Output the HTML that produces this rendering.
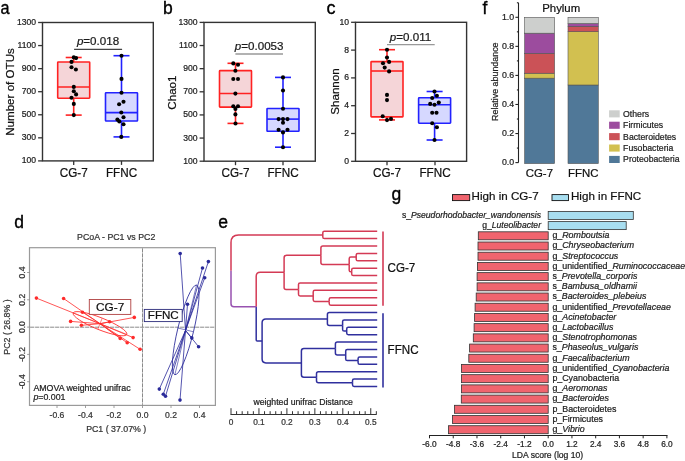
<!DOCTYPE html>
<html><head><meta charset="utf-8"><style>
html,body{margin:0;padding:0;background:#fff;}
svg{display:block;will-change:transform;font-family:"Liberation Sans", sans-serif;}
</style></head><body>
<svg width="685" height="461" viewBox="0 0 685 461">
<rect x="0" y="0" width="685" height="461" fill="#fff"/>
<text transform="translate(0.4,13.55) scale(0.93,1)" font-size="17.5" fill="#000" stroke="#000" stroke-width="0.35">a</text>
<text transform="translate(163.0,13.7) scale(1.0,1)" font-size="17.5" fill="#000" stroke="#000" stroke-width="0.35">b</text>
<text transform="translate(326.5,13.8) scale(1.0,1)" font-size="18" fill="#000" stroke="#000" stroke-width="0.35">c</text>
<text transform="translate(14.3,227.5) scale(1.0,1)" font-size="17.5" fill="#000" stroke="#000" stroke-width="0.35">d</text>
<text transform="translate(218.3,228.0) scale(1.0,1)" font-size="17.6" fill="#000" stroke="#000" stroke-width="0.35">e</text>
<text transform="translate(482.6,13.7) scale(1.0,1)" font-size="17.5" fill="#000" stroke="#000" stroke-width="0.35">f</text>
<text transform="translate(391.5,200.4) scale(1.0,1)" font-size="17.5" fill="#000" stroke="#000" stroke-width="0.35">g</text>
<rect x="42.50" y="22.50" width="110.80" height="138.40" fill="none" stroke="#333" stroke-width="1.4" />
<line x1="38.10" y1="22.50" x2="42.50" y2="22.50" stroke="#333" stroke-width="1.3" />
<text transform="translate(36.10,25.00) scale(1.0,1.1)" font-size="8.6" text-anchor="end" fill="#222" stroke="#222" stroke-width="0.22">1300</text>
<line x1="38.10" y1="45.57" x2="42.50" y2="45.57" stroke="#333" stroke-width="1.3" />
<text transform="translate(36.10,48.07) scale(1.0,1.1)" font-size="8.6" text-anchor="end" fill="#222" stroke="#222" stroke-width="0.22">1100</text>
<line x1="38.10" y1="68.63" x2="42.50" y2="68.63" stroke="#333" stroke-width="1.3" />
<text transform="translate(36.10,71.13) scale(1.0,1.1)" font-size="8.6" text-anchor="end" fill="#222" stroke="#222" stroke-width="0.22">900</text>
<line x1="38.10" y1="91.70" x2="42.50" y2="91.70" stroke="#333" stroke-width="1.3" />
<text transform="translate(36.10,94.20) scale(1.0,1.1)" font-size="8.6" text-anchor="end" fill="#222" stroke="#222" stroke-width="0.22">700</text>
<line x1="38.10" y1="114.77" x2="42.50" y2="114.77" stroke="#333" stroke-width="1.3" />
<text transform="translate(36.10,117.27) scale(1.0,1.1)" font-size="8.6" text-anchor="end" fill="#222" stroke="#222" stroke-width="0.22">500</text>
<line x1="38.10" y1="137.83" x2="42.50" y2="137.83" stroke="#333" stroke-width="1.3" />
<text transform="translate(36.10,140.33) scale(1.0,1.1)" font-size="8.6" text-anchor="end" fill="#222" stroke="#222" stroke-width="0.22">300</text>
<line x1="38.10" y1="160.90" x2="42.50" y2="160.90" stroke="#333" stroke-width="1.3" />
<text transform="translate(36.10,163.40) scale(1.0,1.1)" font-size="8.6" text-anchor="end" fill="#222" stroke="#222" stroke-width="0.22">100</text>
<line x1="73.70" y1="160.90" x2="73.70" y2="164.90" stroke="#333" stroke-width="1.3" />
<text transform="translate(73.70,176.80) scale(1.0,1.12)" font-size="11.7" text-anchor="middle" fill="#111" stroke="#111" stroke-width="0.22">CG-7</text>
<line x1="121.50" y1="160.90" x2="121.50" y2="164.90" stroke="#333" stroke-width="1.3" />
<text transform="translate(121.50,176.80) scale(1.0,1.12)" font-size="11.7" text-anchor="middle" fill="#111" stroke="#111" stroke-width="0.22">FFNC</text>
<text transform="translate(14.1,92.0) rotate(-90)" font-size="11.6" text-anchor="middle" fill="#111" stroke="#111" stroke-width="0.22">Number of OTUs</text>
<line x1="73.70" y1="57.50" x2="73.70" y2="62.00" stroke="#ff2222" stroke-width="1.6" />
<line x1="73.70" y1="98.20" x2="73.70" y2="115.10" stroke="#ff2222" stroke-width="1.6" />
<line x1="65.70" y1="57.50" x2="81.70" y2="57.50" stroke="#ff2222" stroke-width="1.6" />
<line x1="65.70" y1="115.10" x2="81.70" y2="115.10" stroke="#ff2222" stroke-width="1.6" />
<rect x="57.70" y="62.00" width="32.00" height="36.20" fill="#f5d5d8" stroke="#ff2222" stroke-width="1.6" rx="0.6"/>
<line x1="57.70" y1="87.00" x2="89.70" y2="87.00" stroke="#ff2222" stroke-width="1.6" />
<circle cx="73.80" cy="57.40" r="2.05" fill="#000"/>
<circle cx="76.10" cy="58.10" r="2.05" fill="#000"/>
<circle cx="71.50" cy="61.90" r="2.05" fill="#000"/>
<circle cx="71.50" cy="67.30" r="2.05" fill="#000"/>
<circle cx="75.90" cy="69.50" r="2.05" fill="#000"/>
<circle cx="73.80" cy="86.90" r="2.05" fill="#000"/>
<circle cx="73.80" cy="91.20" r="2.05" fill="#000"/>
<circle cx="76.10" cy="94.40" r="2.05" fill="#000"/>
<circle cx="71.50" cy="97.70" r="2.05" fill="#000"/>
<circle cx="73.80" cy="103.90" r="2.05" fill="#000"/>
<circle cx="73.80" cy="115.10" r="2.05" fill="#000"/>
<line x1="121.50" y1="55.70" x2="121.50" y2="92.70" stroke="#2222ff" stroke-width="1.6" />
<line x1="121.50" y1="121.00" x2="121.50" y2="136.90" stroke="#2222ff" stroke-width="1.6" />
<line x1="113.50" y1="55.70" x2="129.50" y2="55.70" stroke="#2222ff" stroke-width="1.6" />
<line x1="113.50" y1="136.90" x2="129.50" y2="136.90" stroke="#2222ff" stroke-width="1.6" />
<rect x="105.50" y="92.70" width="32.00" height="28.30" fill="#d6d8ff" stroke="#2222ff" stroke-width="1.6" rx="0.6"/>
<line x1="105.50" y1="112.60" x2="137.50" y2="112.60" stroke="#2222ff" stroke-width="1.6" />
<circle cx="121.50" cy="55.70" r="2.05" fill="#000"/>
<circle cx="121.50" cy="78.90" r="2.05" fill="#000"/>
<circle cx="121.50" cy="92.80" r="2.05" fill="#000"/>
<circle cx="123.50" cy="101.70" r="2.05" fill="#000"/>
<circle cx="119.10" cy="104.30" r="2.05" fill="#000"/>
<circle cx="121.30" cy="112.50" r="2.05" fill="#000"/>
<circle cx="123.50" cy="117.20" r="2.05" fill="#000"/>
<circle cx="117.40" cy="119.60" r="2.05" fill="#000"/>
<circle cx="119.30" cy="121.40" r="2.05" fill="#000"/>
<circle cx="123.50" cy="124.20" r="2.05" fill="#000"/>
<circle cx="121.30" cy="136.90" r="2.05" fill="#000"/>
<text x="76.9" y="45.2" font-size="11.6" fill="#1a1a1a" stroke="#1a1a1a" stroke-width="0.22"><tspan font-style="italic">p</tspan>=0.018</text>
<line x1="74.10" y1="49.30" x2="122.10" y2="49.30" stroke="#444" stroke-width="1.3" />
<rect x="204.00" y="22.40" width="111.30" height="138.80" fill="none" stroke="#333" stroke-width="1.4" />
<line x1="199.60" y1="22.40" x2="204.00" y2="22.40" stroke="#333" stroke-width="1.3" />
<text transform="translate(197.60,24.90) scale(1.0,1.1)" font-size="8.6" text-anchor="end" fill="#222" stroke="#222" stroke-width="0.22">1300</text>
<line x1="199.60" y1="45.53" x2="204.00" y2="45.53" stroke="#333" stroke-width="1.3" />
<text transform="translate(197.60,48.03) scale(1.0,1.1)" font-size="8.6" text-anchor="end" fill="#222" stroke="#222" stroke-width="0.22">1100</text>
<line x1="199.60" y1="68.67" x2="204.00" y2="68.67" stroke="#333" stroke-width="1.3" />
<text transform="translate(197.60,71.17) scale(1.0,1.1)" font-size="8.6" text-anchor="end" fill="#222" stroke="#222" stroke-width="0.22">900</text>
<line x1="199.60" y1="91.80" x2="204.00" y2="91.80" stroke="#333" stroke-width="1.3" />
<text transform="translate(197.60,94.30) scale(1.0,1.1)" font-size="8.6" text-anchor="end" fill="#222" stroke="#222" stroke-width="0.22">700</text>
<line x1="199.60" y1="114.93" x2="204.00" y2="114.93" stroke="#333" stroke-width="1.3" />
<text transform="translate(197.60,117.43) scale(1.0,1.1)" font-size="8.6" text-anchor="end" fill="#222" stroke="#222" stroke-width="0.22">500</text>
<line x1="199.60" y1="138.07" x2="204.00" y2="138.07" stroke="#333" stroke-width="1.3" />
<text transform="translate(197.60,140.57) scale(1.0,1.1)" font-size="8.6" text-anchor="end" fill="#222" stroke="#222" stroke-width="0.22">300</text>
<line x1="199.60" y1="161.20" x2="204.00" y2="161.20" stroke="#333" stroke-width="1.3" />
<text transform="translate(197.60,163.70) scale(1.0,1.1)" font-size="8.6" text-anchor="end" fill="#222" stroke="#222" stroke-width="0.22">100</text>
<line x1="235.50" y1="161.20" x2="235.50" y2="165.20" stroke="#333" stroke-width="1.3" />
<text transform="translate(235.50,177.10) scale(1.0,1.12)" font-size="11.7" text-anchor="middle" fill="#111" stroke="#111" stroke-width="0.22">CG-7</text>
<line x1="283.00" y1="161.20" x2="283.00" y2="165.20" stroke="#333" stroke-width="1.3" />
<text transform="translate(283.00,177.10) scale(1.0,1.12)" font-size="11.7" text-anchor="middle" fill="#111" stroke="#111" stroke-width="0.22">FFNC</text>
<text transform="translate(176.1,92.6) rotate(-90)" font-size="11.6" text-anchor="middle" fill="#111" stroke="#111" stroke-width="0.22">Chao1</text>
<line x1="235.50" y1="63.30" x2="235.50" y2="70.60" stroke="#ff2222" stroke-width="1.6" />
<line x1="235.50" y1="107.10" x2="235.50" y2="123.40" stroke="#ff2222" stroke-width="1.6" />
<line x1="227.50" y1="63.30" x2="243.50" y2="63.30" stroke="#ff2222" stroke-width="1.6" />
<line x1="227.50" y1="123.40" x2="243.50" y2="123.40" stroke="#ff2222" stroke-width="1.6" />
<rect x="219.50" y="70.60" width="32.00" height="36.50" fill="#f5d5d8" stroke="#ff2222" stroke-width="1.6" rx="0.6"/>
<line x1="219.50" y1="93.50" x2="251.50" y2="93.50" stroke="#ff2222" stroke-width="1.6" />
<circle cx="233.30" cy="63.40" r="2.05" fill="#000"/>
<circle cx="238.00" cy="64.70" r="2.05" fill="#000"/>
<circle cx="235.40" cy="70.70" r="2.05" fill="#000"/>
<circle cx="233.30" cy="79.00" r="2.05" fill="#000"/>
<circle cx="238.00" cy="79.00" r="2.05" fill="#000"/>
<circle cx="235.40" cy="93.60" r="2.05" fill="#000"/>
<circle cx="233.30" cy="106.30" r="2.05" fill="#000"/>
<circle cx="238.00" cy="106.30" r="2.05" fill="#000"/>
<circle cx="235.40" cy="108.90" r="2.05" fill="#000"/>
<circle cx="235.40" cy="114.40" r="2.05" fill="#000"/>
<circle cx="235.50" cy="123.50" r="2.05" fill="#000"/>
<line x1="283.00" y1="77.40" x2="283.00" y2="108.50" stroke="#2222ff" stroke-width="1.6" />
<line x1="283.00" y1="131.30" x2="283.00" y2="147.20" stroke="#2222ff" stroke-width="1.6" />
<line x1="275.00" y1="77.40" x2="291.00" y2="77.40" stroke="#2222ff" stroke-width="1.6" />
<line x1="275.00" y1="147.20" x2="291.00" y2="147.20" stroke="#2222ff" stroke-width="1.6" />
<rect x="267.00" y="108.50" width="32.00" height="22.80" fill="#d6d8ff" stroke="#2222ff" stroke-width="1.6" rx="0.6"/>
<line x1="267.00" y1="119.10" x2="299.00" y2="119.10" stroke="#2222ff" stroke-width="1.6" />
<circle cx="283.00" cy="77.40" r="2.05" fill="#000"/>
<circle cx="283.00" cy="90.50" r="2.05" fill="#000"/>
<circle cx="283.00" cy="108.70" r="2.05" fill="#000"/>
<circle cx="278.60" cy="119.10" r="2.05" fill="#000"/>
<circle cx="283.00" cy="119.10" r="2.05" fill="#000"/>
<circle cx="287.50" cy="119.10" r="2.05" fill="#000"/>
<circle cx="283.00" cy="122.70" r="2.05" fill="#000"/>
<circle cx="278.60" cy="129.80" r="2.05" fill="#000"/>
<circle cx="287.50" cy="129.80" r="2.05" fill="#000"/>
<circle cx="283.00" cy="132.40" r="2.05" fill="#000"/>
<circle cx="283.00" cy="147.20" r="2.05" fill="#000"/>
<text x="234.8" y="49.6" font-size="11.6" fill="#1a1a1a" stroke="#1a1a1a" stroke-width="0.22"><tspan font-style="italic">p</tspan>=0.0053</text>
<line x1="235.40" y1="54.00" x2="283.00" y2="54.00" stroke="#999" stroke-width="1.3" />
<rect x="355.50" y="22.30" width="111.10" height="139.00" fill="none" stroke="#333" stroke-width="1.4" />
<line x1="351.10" y1="22.30" x2="355.50" y2="22.30" stroke="#333" stroke-width="1.3" />
<text transform="translate(349.10,24.80) scale(1.0,1.1)" font-size="8.6" text-anchor="end" fill="#222" stroke="#222" stroke-width="0.22">10</text>
<line x1="351.10" y1="50.10" x2="355.50" y2="50.10" stroke="#333" stroke-width="1.3" />
<text transform="translate(349.10,52.60) scale(1.0,1.1)" font-size="8.6" text-anchor="end" fill="#222" stroke="#222" stroke-width="0.22">8</text>
<line x1="351.10" y1="77.90" x2="355.50" y2="77.90" stroke="#333" stroke-width="1.3" />
<text transform="translate(349.10,80.40) scale(1.0,1.1)" font-size="8.6" text-anchor="end" fill="#222" stroke="#222" stroke-width="0.22">6</text>
<line x1="351.10" y1="105.70" x2="355.50" y2="105.70" stroke="#333" stroke-width="1.3" />
<text transform="translate(349.10,108.20) scale(1.0,1.1)" font-size="8.6" text-anchor="end" fill="#222" stroke="#222" stroke-width="0.22">4</text>
<line x1="351.10" y1="133.50" x2="355.50" y2="133.50" stroke="#333" stroke-width="1.3" />
<text transform="translate(349.10,136.00) scale(1.0,1.1)" font-size="8.6" text-anchor="end" fill="#222" stroke="#222" stroke-width="0.22">2</text>
<line x1="351.10" y1="161.30" x2="355.50" y2="161.30" stroke="#333" stroke-width="1.3" />
<text transform="translate(349.10,163.80) scale(1.0,1.1)" font-size="8.6" text-anchor="end" fill="#222" stroke="#222" stroke-width="0.22">0</text>
<line x1="387.00" y1="161.30" x2="387.00" y2="165.30" stroke="#333" stroke-width="1.3" />
<text transform="translate(387.00,177.20) scale(1.0,1.12)" font-size="11.7" text-anchor="middle" fill="#111" stroke="#111" stroke-width="0.22">CG-7</text>
<line x1="435.00" y1="161.30" x2="435.00" y2="165.30" stroke="#333" stroke-width="1.3" />
<text transform="translate(435.00,177.20) scale(1.0,1.12)" font-size="11.7" text-anchor="middle" fill="#111" stroke="#111" stroke-width="0.22">FFNC</text>
<text transform="translate(338.5,91.5) rotate(-90)" font-size="11.6" text-anchor="middle" fill="#111" stroke="#111" stroke-width="0.22">Shannon</text>
<line x1="387.00" y1="49.70" x2="387.00" y2="61.60" stroke="#ff2222" stroke-width="1.6" />
<line x1="387.00" y1="116.90" x2="387.00" y2="119.90" stroke="#ff2222" stroke-width="1.6" />
<line x1="379.00" y1="49.70" x2="395.00" y2="49.70" stroke="#ff2222" stroke-width="1.6" />
<line x1="379.00" y1="119.90" x2="395.00" y2="119.90" stroke="#ff2222" stroke-width="1.6" />
<rect x="371.00" y="61.60" width="32.00" height="55.30" fill="#f5d5d8" stroke="#ff2222" stroke-width="1.6" rx="0.6"/>
<line x1="371.00" y1="71.00" x2="403.00" y2="71.00" stroke="#ff2222" stroke-width="1.6" />
<circle cx="387.00" cy="49.70" r="2.05" fill="#000"/>
<circle cx="387.00" cy="57.50" r="2.05" fill="#000"/>
<circle cx="383.00" cy="63.30" r="2.05" fill="#000"/>
<circle cx="389.10" cy="61.90" r="2.05" fill="#000"/>
<circle cx="384.70" cy="67.60" r="2.05" fill="#000"/>
<circle cx="389.10" cy="71.40" r="2.05" fill="#000"/>
<circle cx="387.00" cy="94.90" r="2.05" fill="#000"/>
<circle cx="387.00" cy="100.10" r="2.05" fill="#000"/>
<circle cx="382.70" cy="116.30" r="2.05" fill="#000"/>
<circle cx="387.00" cy="120.10" r="2.05" fill="#000"/>
<circle cx="391.00" cy="118.90" r="2.05" fill="#000"/>
<line x1="434.60" y1="91.50" x2="434.60" y2="97.80" stroke="#2222ff" stroke-width="1.6" />
<line x1="434.60" y1="123.20" x2="434.60" y2="140.00" stroke="#2222ff" stroke-width="1.6" />
<line x1="426.60" y1="91.50" x2="442.60" y2="91.50" stroke="#2222ff" stroke-width="1.6" />
<line x1="426.60" y1="140.00" x2="442.60" y2="140.00" stroke="#2222ff" stroke-width="1.6" />
<rect x="418.60" y="97.80" width="32.00" height="25.40" fill="#d6d8ff" stroke="#2222ff" stroke-width="1.6" rx="0.6"/>
<line x1="418.60" y1="104.80" x2="450.60" y2="104.80" stroke="#2222ff" stroke-width="1.6" />
<circle cx="434.50" cy="91.50" r="2.05" fill="#000"/>
<circle cx="436.90" cy="95.70" r="2.05" fill="#000"/>
<circle cx="432.20" cy="98.00" r="2.05" fill="#000"/>
<circle cx="430.20" cy="103.90" r="2.05" fill="#000"/>
<circle cx="434.50" cy="104.80" r="2.05" fill="#000"/>
<circle cx="438.80" cy="102.60" r="2.05" fill="#000"/>
<circle cx="432.20" cy="112.80" r="2.05" fill="#000"/>
<circle cx="436.50" cy="112.80" r="2.05" fill="#000"/>
<circle cx="432.20" cy="123.20" r="2.05" fill="#000"/>
<circle cx="436.90" cy="127.30" r="2.05" fill="#000"/>
<circle cx="434.50" cy="140.00" r="2.05" fill="#000"/>
<text x="389.8" y="40.5" font-size="11.6" fill="#1a1a1a" stroke="#1a1a1a" stroke-width="0.22"><tspan font-style="italic">p</tspan>=0.011</text>
<line x1="387.00" y1="44.60" x2="434.70" y2="44.60" stroke="#999" stroke-width="1.3" />
<line x1="518.50" y1="2.80" x2="518.50" y2="162.60" stroke="#222" stroke-width="1.1" />
<line x1="515.40" y1="162.60" x2="518.50" y2="162.60" stroke="#222" stroke-width="1.1" />
<text transform="translate(514.20,165.10) scale(1.0,1.12)" font-size="8.8" text-anchor="end" fill="#222" stroke="#222" stroke-width="0.22">0.0</text>
<line x1="516.90" y1="148.07" x2="518.50" y2="148.07" stroke="#222" stroke-width="1.1" />
<line x1="515.40" y1="133.54" x2="518.50" y2="133.54" stroke="#222" stroke-width="1.1" />
<text transform="translate(514.20,136.04) scale(1.0,1.12)" font-size="8.8" text-anchor="end" fill="#222" stroke="#222" stroke-width="0.22">0.2</text>
<line x1="516.90" y1="119.01" x2="518.50" y2="119.01" stroke="#222" stroke-width="1.1" />
<line x1="515.40" y1="104.48" x2="518.50" y2="104.48" stroke="#222" stroke-width="1.1" />
<text transform="translate(514.20,106.98) scale(1.0,1.12)" font-size="8.8" text-anchor="end" fill="#222" stroke="#222" stroke-width="0.22">0.4</text>
<line x1="516.90" y1="89.95" x2="518.50" y2="89.95" stroke="#222" stroke-width="1.1" />
<line x1="515.40" y1="75.42" x2="518.50" y2="75.42" stroke="#222" stroke-width="1.1" />
<text transform="translate(514.20,77.92) scale(1.0,1.12)" font-size="8.8" text-anchor="end" fill="#222" stroke="#222" stroke-width="0.22">0.6</text>
<line x1="516.90" y1="60.89" x2="518.50" y2="60.89" stroke="#222" stroke-width="1.1" />
<line x1="515.40" y1="46.36" x2="518.50" y2="46.36" stroke="#222" stroke-width="1.1" />
<text transform="translate(514.20,48.86) scale(1.0,1.12)" font-size="8.8" text-anchor="end" fill="#222" stroke="#222" stroke-width="0.22">0.8</text>
<line x1="516.90" y1="31.83" x2="518.50" y2="31.83" stroke="#222" stroke-width="1.1" />
<line x1="515.40" y1="17.30" x2="518.50" y2="17.30" stroke="#222" stroke-width="1.1" />
<text transform="translate(514.20,19.80) scale(1.0,1.12)" font-size="8.8" text-anchor="end" fill="#222" stroke="#222" stroke-width="0.22">1.0</text>
<line x1="516.90" y1="2.77" x2="518.50" y2="2.77" stroke="#222" stroke-width="1.1" />
<text transform="translate(498,81.7) rotate(-90)" font-size="8.9" text-anchor="middle" fill="#222" stroke="#222" stroke-width="0.22">Relative abundance</text>
<text x="561.20" y="12.20" font-size="11.4" text-anchor="middle" fill="#111" stroke="#111" stroke-width="0.22" >Phylum</text>
<rect x="524.60" y="78.18" width="30.00" height="85.42" fill="#507898" stroke="#555" stroke-width="0.6" />
<rect x="524.60" y="73.24" width="30.00" height="4.94" fill="#d2c050" stroke="#555" stroke-width="0.6" />
<rect x="524.60" y="53.33" width="30.00" height="19.91" fill="#cb5257" stroke="#555" stroke-width="0.6" />
<rect x="524.60" y="33.20" width="30.00" height="20.14" fill="#9c4c9e" stroke="#555" stroke-width="0.6" />
<rect x="524.60" y="17.30" width="30.00" height="15.90" fill="#cdcfcd" stroke="#555" stroke-width="0.6" />
<rect x="568.00" y="85.01" width="30.30" height="78.59" fill="#507898" stroke="#555" stroke-width="0.6" />
<rect x="568.00" y="31.68" width="30.30" height="53.33" fill="#d2c050" stroke="#555" stroke-width="0.6" />
<rect x="568.00" y="26.31" width="30.30" height="5.38" fill="#cb5257" stroke="#555" stroke-width="0.6" />
<rect x="568.00" y="23.55" width="30.30" height="2.76" fill="#9c4c9e" stroke="#555" stroke-width="0.6" />
<rect x="568.00" y="17.30" width="30.30" height="6.25" fill="#cdcfcd" stroke="#555" stroke-width="0.6" />
<text x="539.40" y="176.80" font-size="11.4" text-anchor="middle" fill="#111" stroke="#111" stroke-width="0.22" >CG-7</text>
<text x="583.20" y="176.80" font-size="11.4" text-anchor="middle" fill="#111" stroke="#111" stroke-width="0.22" >FFNC</text>
<rect x="609.10" y="110.30" width="10.60" height="7.10" fill="#cdcfcd" stroke="none" stroke-width="1" />
<text x="623.10" y="116.70" font-size="8.7" text-anchor="start" fill="#222" stroke="#222" stroke-width="0.22" >Others</text>
<rect x="609.10" y="121.70" width="10.60" height="7.10" fill="#9c4c9e" stroke="none" stroke-width="1" />
<text x="623.10" y="128.10" font-size="8.7" text-anchor="start" fill="#222" stroke="#222" stroke-width="0.22" >Firmicutes</text>
<rect x="609.10" y="133.10" width="10.60" height="7.10" fill="#cb5257" stroke="none" stroke-width="1" />
<text x="623.10" y="139.50" font-size="8.7" text-anchor="start" fill="#222" stroke="#222" stroke-width="0.22" >Bacteroidetes</text>
<rect x="609.10" y="144.50" width="10.60" height="7.10" fill="#d2c050" stroke="none" stroke-width="1" />
<text x="623.10" y="150.90" font-size="8.7" text-anchor="start" fill="#222" stroke="#222" stroke-width="0.22" >Fusobacteria</text>
<rect x="609.10" y="155.90" width="10.60" height="7.10" fill="#507898" stroke="none" stroke-width="1" />
<text x="623.10" y="162.30" font-size="8.7" text-anchor="start" fill="#222" stroke="#222" stroke-width="0.22" >Proteobacteria</text>
<rect x="29.50" y="247.70" width="185.90" height="157.70" fill="none" stroke="#9a9a9a" stroke-width="1.2" />
<line x1="142.50" y1="248.30" x2="142.50" y2="404.80" stroke="#8a8a8a" stroke-width="1.0" stroke-dasharray="4.2,0.8"/>
<line x1="30.10" y1="327.20" x2="214.80" y2="327.20" stroke="#8a8a8a" stroke-width="1.0" stroke-dasharray="4.2,0.8"/>
<line x1="57.00" y1="405.40" x2="57.00" y2="408.00" stroke="#888" stroke-width="0.8" />
<text x="57.00" y="417.60" font-size="8.6" text-anchor="middle" fill="#333" stroke="#333" stroke-width="0.22" >-0.6</text>
<line x1="85.50" y1="405.40" x2="85.50" y2="408.00" stroke="#888" stroke-width="0.8" />
<text x="85.50" y="417.60" font-size="8.6" text-anchor="middle" fill="#333" stroke="#333" stroke-width="0.22" >-0.4</text>
<line x1="114.00" y1="405.40" x2="114.00" y2="408.00" stroke="#888" stroke-width="0.8" />
<text x="114.00" y="417.60" font-size="8.6" text-anchor="middle" fill="#333" stroke="#333" stroke-width="0.22" >-0.2</text>
<line x1="142.50" y1="405.40" x2="142.50" y2="408.00" stroke="#888" stroke-width="0.8" />
<text x="142.50" y="417.60" font-size="8.6" text-anchor="middle" fill="#333" stroke="#333" stroke-width="0.22" >0.0</text>
<line x1="171.00" y1="405.40" x2="171.00" y2="408.00" stroke="#888" stroke-width="0.8" />
<text x="171.00" y="417.60" font-size="8.6" text-anchor="middle" fill="#333" stroke="#333" stroke-width="0.22" >0.2</text>
<line x1="199.50" y1="405.40" x2="199.50" y2="408.00" stroke="#888" stroke-width="0.8" />
<text x="199.50" y="417.60" font-size="8.6" text-anchor="middle" fill="#333" stroke="#333" stroke-width="0.22" >0.4</text>
<line x1="27.10" y1="272.50" x2="29.70" y2="272.50" stroke="#888" stroke-width="0.8" />
<text transform="translate(24.8,272.50) rotate(-90)" font-size="8.6" text-anchor="middle" fill="#333" stroke="#333" stroke-width="0.22">0.4</text>
<line x1="27.10" y1="299.80" x2="29.70" y2="299.80" stroke="#888" stroke-width="0.8" />
<text transform="translate(24.8,299.80) rotate(-90)" font-size="8.6" text-anchor="middle" fill="#333" stroke="#333" stroke-width="0.22">0.2</text>
<line x1="27.10" y1="327.10" x2="29.70" y2="327.10" stroke="#888" stroke-width="0.8" />
<text transform="translate(24.8,327.10) rotate(-90)" font-size="8.6" text-anchor="middle" fill="#333" stroke="#333" stroke-width="0.22">0.0</text>
<line x1="27.10" y1="354.40" x2="29.70" y2="354.40" stroke="#888" stroke-width="0.8" />
<text transform="translate(24.8,354.40) rotate(-90)" font-size="8.6" text-anchor="middle" fill="#333" stroke="#333" stroke-width="0.22">-0.2</text>
<line x1="27.10" y1="381.70" x2="29.70" y2="381.70" stroke="#888" stroke-width="0.8" />
<text transform="translate(24.8,381.70) rotate(-90)" font-size="8.6" text-anchor="middle" fill="#333" stroke="#333" stroke-width="0.22">-0.4</text>
<text transform="translate(10.3,327.0) rotate(-90)" font-size="8.8" text-anchor="middle" fill="#333" stroke="#333" stroke-width="0.22">PC2 ( 26.8% )</text>
<text x="116.20" y="432.00" font-size="8.8" text-anchor="middle" fill="#333" stroke="#333" stroke-width="0.22" >PC1 ( 37.07% )</text>
<text x="116.20" y="240.20" font-size="8.8" text-anchor="middle" fill="#333" stroke="#333" stroke-width="0.22" >PCoA - PC1 vs PC2</text>
<text x="33.40" y="390.80" font-size="8.8" text-anchor="start" fill="#222" stroke="#222" stroke-width="0.22" >AMOVA weighted unifrac</text>
<text x="33.4" y="400.0" font-size="8.8" fill="#222" stroke="#222" stroke-width="0.22"><tspan font-style="italic">p</tspan>=0.001</text>
<line x1="100.00" y1="323.70" x2="36.40" y2="298.10" stroke="#ff2b2b" stroke-width="0.8" />
<line x1="100.00" y1="323.70" x2="63.60" y2="298.50" stroke="#ff2b2b" stroke-width="0.8" />
<line x1="100.00" y1="323.70" x2="82.50" y2="312.20" stroke="#ff2b2b" stroke-width="0.8" />
<line x1="100.00" y1="323.70" x2="70.60" y2="321.40" stroke="#ff2b2b" stroke-width="0.8" />
<line x1="100.00" y1="323.70" x2="81.40" y2="325.30" stroke="#ff2b2b" stroke-width="0.8" />
<line x1="100.00" y1="323.70" x2="109.60" y2="321.80" stroke="#ff2b2b" stroke-width="0.8" />
<line x1="100.00" y1="323.70" x2="134.30" y2="317.40" stroke="#ff2b2b" stroke-width="0.8" />
<line x1="100.00" y1="323.70" x2="120.20" y2="338.40" stroke="#ff2b2b" stroke-width="0.8" />
<line x1="100.00" y1="323.70" x2="133.10" y2="337.60" stroke="#ff2b2b" stroke-width="0.8" />
<line x1="100.00" y1="323.70" x2="127.20" y2="342.80" stroke="#ff2b2b" stroke-width="0.8" />
<line x1="100.00" y1="323.70" x2="140.10" y2="349.30" stroke="#ff2b2b" stroke-width="0.8" />
<ellipse cx="100.0" cy="323.7" rx="28.9" ry="6.0" transform="rotate(21.8 100.0 323.7)" fill="none" stroke="#ff2b2b" stroke-width="0.8"/>
<line x1="73.17" y1="312.97" x2="126.83" y2="334.43" stroke="#ff2b2b" stroke-width="0.6" />
<line x1="102.23" y1="318.13" x2="97.77" y2="329.27" stroke="#ff2b2b" stroke-width="0.6" />
<circle cx="36.40" cy="298.10" r="1.8" fill="#ff2b2b"/>
<circle cx="63.60" cy="298.50" r="1.8" fill="#ff2b2b"/>
<circle cx="82.50" cy="312.20" r="1.8" fill="#ff2b2b"/>
<circle cx="70.60" cy="321.40" r="1.8" fill="#ff2b2b"/>
<circle cx="81.40" cy="325.30" r="1.8" fill="#ff2b2b"/>
<circle cx="109.60" cy="321.80" r="1.8" fill="#ff2b2b"/>
<circle cx="134.30" cy="317.40" r="1.8" fill="#ff2b2b"/>
<circle cx="120.20" cy="338.40" r="1.8" fill="#ff2b2b"/>
<circle cx="133.10" cy="337.60" r="1.8" fill="#ff2b2b"/>
<circle cx="127.20" cy="342.80" r="1.8" fill="#ff2b2b"/>
<circle cx="140.10" cy="349.30" r="1.8" fill="#ff2b2b"/>
<rect x="89.30" y="299.50" width="41.50" height="14.90" fill="#fff" stroke="#b04040" stroke-width="0.9" />
<text x="110.20" y="311.20" font-size="11.8" text-anchor="middle" fill="#111" stroke="#111" stroke-width="0.22" >CG-7</text>
<line x1="185.50" y1="330.50" x2="180.20" y2="253.50" stroke="#2a2a9a" stroke-width="0.8" />
<line x1="185.50" y1="330.50" x2="208.40" y2="261.60" stroke="#2a2a9a" stroke-width="0.8" />
<line x1="185.50" y1="330.50" x2="202.50" y2="268.00" stroke="#2a2a9a" stroke-width="0.8" />
<line x1="185.50" y1="330.50" x2="204.70" y2="277.80" stroke="#2a2a9a" stroke-width="0.8" />
<line x1="185.50" y1="330.50" x2="187.50" y2="304.30" stroke="#2a2a9a" stroke-width="0.8" />
<line x1="185.50" y1="330.50" x2="191.80" y2="337.90" stroke="#2a2a9a" stroke-width="0.8" />
<line x1="185.50" y1="330.50" x2="198.60" y2="346.70" stroke="#2a2a9a" stroke-width="0.8" />
<line x1="185.50" y1="330.50" x2="159.30" y2="389.10" stroke="#2a2a9a" stroke-width="0.8" />
<line x1="185.50" y1="330.50" x2="163.30" y2="394.20" stroke="#2a2a9a" stroke-width="0.8" />
<line x1="185.50" y1="330.50" x2="165.50" y2="396.20" stroke="#2a2a9a" stroke-width="0.8" />
<line x1="185.50" y1="330.50" x2="180.00" y2="400.10" stroke="#2a2a9a" stroke-width="0.8" />
<ellipse cx="185.7" cy="329.9" rx="46.1" ry="8.0" transform="rotate(-76.4 185.7 329.9)" fill="none" stroke="#2a2a9a" stroke-width="0.8"/>
<line x1="174.86" y1="374.71" x2="196.54" y2="285.09" stroke="#2a2a9a" stroke-width="0.6" />
<line x1="177.92" y1="328.02" x2="193.48" y2="331.78" stroke="#2a2a9a" stroke-width="0.6" />
<circle cx="180.20" cy="253.50" r="1.8" fill="#2a2a9a"/>
<circle cx="208.40" cy="261.60" r="1.8" fill="#2a2a9a"/>
<circle cx="202.50" cy="268.00" r="1.8" fill="#2a2a9a"/>
<circle cx="204.70" cy="277.80" r="1.8" fill="#2a2a9a"/>
<circle cx="187.50" cy="304.30" r="1.8" fill="#2a2a9a"/>
<circle cx="191.80" cy="337.90" r="1.8" fill="#2a2a9a"/>
<circle cx="198.60" cy="346.70" r="1.8" fill="#2a2a9a"/>
<circle cx="159.30" cy="389.10" r="1.8" fill="#2a2a9a"/>
<circle cx="163.30" cy="394.20" r="1.8" fill="#2a2a9a"/>
<circle cx="165.50" cy="396.20" r="1.8" fill="#2a2a9a"/>
<circle cx="180.00" cy="400.10" r="1.8" fill="#2a2a9a"/>
<rect x="144.30" y="309.40" width="37.90" height="12.20" fill="#fff" stroke="#2a2a7a" stroke-width="0.9" />
<text x="163.30" y="319.10" font-size="11.6" text-anchor="middle" fill="#111" stroke="#111" stroke-width="0.22" >FFNC</text>
<path d="M322.80,234.90 V232.80 Q322.80,231.20 324.40,231.20 H377.20" stroke="#d43a55" stroke-width="1.5" fill="none" stroke-linecap="butt"/>
<path d="M322.80,234.90 V236.99 Q322.80,238.59 324.40,238.59 H377.20" stroke="#d43a55" stroke-width="1.5" fill="none" stroke-linecap="butt"/>
<path d="M356.20,257.08 V254.98 Q356.20,253.38 357.80,253.38 H377.20" stroke="#d43a55" stroke-width="1.5" fill="none" stroke-linecap="butt"/>
<path d="M356.20,257.08 V259.18 Q356.20,260.78 357.80,260.78 H377.20" stroke="#d43a55" stroke-width="1.5" fill="none" stroke-linecap="butt"/>
<path d="M351.70,271.87 V269.77 Q351.70,268.17 353.30,268.17 H377.20" stroke="#d43a55" stroke-width="1.5" fill="none" stroke-linecap="butt"/>
<path d="M351.70,271.87 V273.96 Q351.70,275.56 353.30,275.56 H377.20" stroke="#d43a55" stroke-width="1.5" fill="none" stroke-linecap="butt"/>
<path d="M349.20,264.47 V258.68 Q349.20,257.08 350.80,257.08 H356.20" stroke="#d43a55" stroke-width="1.5" fill="none" stroke-linecap="butt"/>
<path d="M349.20,264.47 V270.27 Q349.20,271.87 350.80,271.87 H351.70" stroke="#d43a55" stroke-width="1.5" fill="none" stroke-linecap="butt"/>
<path d="M320.90,255.23 V247.99 Q320.90,245.99 322.90,245.99 H377.20" stroke="#d43a55" stroke-width="1.5" fill="none" stroke-linecap="butt"/>
<path d="M320.90,255.23 V262.47 Q320.90,264.47 322.90,264.47 H349.20" stroke="#d43a55" stroke-width="1.5" fill="none" stroke-linecap="butt"/>
<path d="M329.20,301.44 V299.35 Q329.20,297.75 330.80,297.75 H377.20" stroke="#d43a55" stroke-width="1.5" fill="none" stroke-linecap="butt"/>
<path d="M329.20,301.44 V303.54 Q329.20,305.14 330.80,305.14 H377.20" stroke="#d43a55" stroke-width="1.5" fill="none" stroke-linecap="butt"/>
<path d="M313.20,295.90 V291.95 Q313.20,290.35 314.80,290.35 H377.20" stroke="#d43a55" stroke-width="1.5" fill="none" stroke-linecap="butt"/>
<path d="M313.20,295.90 V299.84 Q313.20,301.44 314.80,301.44 H329.20" stroke="#d43a55" stroke-width="1.5" fill="none" stroke-linecap="butt"/>
<path d="M298.50,289.43 V284.56 Q298.50,282.96 300.10,282.96 H377.20" stroke="#d43a55" stroke-width="1.5" fill="none" stroke-linecap="butt"/>
<path d="M298.50,289.43 V294.30 Q298.50,295.90 300.10,295.90 H313.20" stroke="#d43a55" stroke-width="1.5" fill="none" stroke-linecap="butt"/>
<path d="M284.10,272.33 V257.73 Q284.10,255.23 286.60,255.23 H320.90" stroke="#d43a55" stroke-width="1.5" fill="none" stroke-linecap="butt"/>
<path d="M284.10,272.33 V287.43 Q284.10,289.43 286.10,289.43 H298.50" stroke="#d43a55" stroke-width="1.5" fill="none" stroke-linecap="butt"/>
<path d="M346.70,331.02 V328.92 Q346.70,327.32 348.30,327.32 H377.20" stroke="#30309e" stroke-width="1.5" fill="none" stroke-linecap="butt"/>
<path d="M346.70,331.02 V333.12 Q346.70,334.72 348.30,334.72 H377.20" stroke="#30309e" stroke-width="1.5" fill="none" stroke-linecap="butt"/>
<path d="M342.60,325.47 V321.53 Q342.60,319.93 344.20,319.93 H377.20" stroke="#30309e" stroke-width="1.5" fill="none" stroke-linecap="butt"/>
<path d="M342.60,325.47 V329.42 Q342.60,331.02 344.20,331.02 H346.70" stroke="#30309e" stroke-width="1.5" fill="none" stroke-linecap="butt"/>
<path d="M327.40,319.00 V314.53 Q327.40,312.53 329.40,312.53 H377.20" stroke="#30309e" stroke-width="1.5" fill="none" stroke-linecap="butt"/>
<path d="M327.40,319.00 V323.47 Q327.40,325.47 329.40,325.47 H342.60" stroke="#30309e" stroke-width="1.5" fill="none" stroke-linecap="butt"/>
<path d="M358.10,360.60 V358.50 Q358.10,356.90 359.70,356.90 H377.20" stroke="#30309e" stroke-width="1.5" fill="none" stroke-linecap="butt"/>
<path d="M358.10,360.60 V362.69 Q358.10,364.29 359.70,364.29 H377.20" stroke="#30309e" stroke-width="1.5" fill="none" stroke-linecap="butt"/>
<path d="M345.70,355.05 V351.10 Q345.70,349.50 347.30,349.50 H377.20" stroke="#30309e" stroke-width="1.5" fill="none" stroke-linecap="butt"/>
<path d="M345.70,355.05 V359.00 Q345.70,360.60 347.30,360.60 H358.10" stroke="#30309e" stroke-width="1.5" fill="none" stroke-linecap="butt"/>
<path d="M335.40,348.58 V344.11 Q335.40,342.11 337.40,342.11 H377.20" stroke="#30309e" stroke-width="1.5" fill="none" stroke-linecap="butt"/>
<path d="M335.40,348.58 V353.05 Q335.40,355.05 337.40,355.05 H345.70" stroke="#30309e" stroke-width="1.5" fill="none" stroke-linecap="butt"/>
<path d="M352.50,382.78 V380.68 Q352.50,379.08 354.10,379.08 H377.20" stroke="#30309e" stroke-width="1.5" fill="none" stroke-linecap="butt"/>
<path d="M352.50,382.78 V384.87 Q352.50,386.47 354.10,386.47 H377.20" stroke="#30309e" stroke-width="1.5" fill="none" stroke-linecap="butt"/>
<path d="M316.50,377.23 V373.69 Q316.50,371.69 318.50,371.69 H377.20" stroke="#30309e" stroke-width="1.5" fill="none" stroke-linecap="butt"/>
<path d="M316.50,377.23 V380.78 Q316.50,382.78 318.50,382.78 H352.50" stroke="#30309e" stroke-width="1.5" fill="none" stroke-linecap="butt"/>
<path d="M301.40,362.91 V351.08 Q301.40,348.58 303.90,348.58 H335.40" stroke="#30309e" stroke-width="1.5" fill="none" stroke-linecap="butt"/>
<path d="M301.40,362.91 V374.73 Q301.40,377.23 303.90,377.23 H316.50" stroke="#30309e" stroke-width="1.5" fill="none" stroke-linecap="butt"/>
<path d="M262.10,340.95 V322.80 Q262.10,319.00 265.90,319.00 H327.40" stroke="#30309e" stroke-width="1.5" fill="none" stroke-linecap="butt"/>
<path d="M262.10,340.95 V359.11 Q262.10,362.91 265.90,362.91 H301.40" stroke="#30309e" stroke-width="1.5" fill="none" stroke-linecap="butt"/>
<path d="M256.20,306.64 V276.33 Q256.20,272.33 260.20,272.33 H284.10" stroke="#d43a55" stroke-width="1.5" fill="none" stroke-linecap="butt"/>
<path d="M256.20,306.64 V339.95 Q256.20,340.95 257.20,340.95 H262.10" stroke="#30309e" stroke-width="1.5" fill="none" stroke-linecap="butt"/>
<path d="M231.00,270.77 V242.40 Q231.00,234.90 238.50,234.90 H322.80" stroke="#d43a55" stroke-width="1.5" fill="none" stroke-linecap="butt"/>
<path d="M231.00,270.77 V303.64 Q231.00,306.64 234.00,306.64 H256.20" stroke="#9852b0" stroke-width="1.5" fill="none" stroke-linecap="butt"/>
<line x1="383.00" y1="231.60" x2="383.00" y2="305.80" stroke="#d43a55" stroke-width="1.6" />
<line x1="383.00" y1="313.20" x2="383.00" y2="387.50" stroke="#30309e" stroke-width="1.6" />
<text transform="translate(387.60,272.10) scale(1.0,1.1)" font-size="11.6" text-anchor="start" fill="#111" stroke="#111" stroke-width="0.22">CG-7</text>
<text transform="translate(387.60,353.70) scale(1.0,1.1)" font-size="11.6" text-anchor="start" fill="#111" stroke="#111" stroke-width="0.22">FFNC</text>
<line x1="230.50" y1="414.50" x2="376.60" y2="414.50" stroke="#333" stroke-width="1.0" />
<line x1="231.00" y1="408.20" x2="231.00" y2="414.50" stroke="#333" stroke-width="1.0" />
<line x1="236.59" y1="411.20" x2="236.59" y2="414.50" stroke="#333" stroke-width="1.0" />
<line x1="242.18" y1="411.20" x2="242.18" y2="414.50" stroke="#333" stroke-width="1.0" />
<line x1="247.77" y1="411.20" x2="247.77" y2="414.50" stroke="#333" stroke-width="1.0" />
<line x1="253.36" y1="411.20" x2="253.36" y2="414.50" stroke="#333" stroke-width="1.0" />
<line x1="258.95" y1="408.20" x2="258.95" y2="414.50" stroke="#333" stroke-width="1.0" />
<line x1="264.54" y1="411.20" x2="264.54" y2="414.50" stroke="#333" stroke-width="1.0" />
<line x1="270.13" y1="411.20" x2="270.13" y2="414.50" stroke="#333" stroke-width="1.0" />
<line x1="275.72" y1="411.20" x2="275.72" y2="414.50" stroke="#333" stroke-width="1.0" />
<line x1="281.31" y1="411.20" x2="281.31" y2="414.50" stroke="#333" stroke-width="1.0" />
<line x1="286.90" y1="408.20" x2="286.90" y2="414.50" stroke="#333" stroke-width="1.0" />
<line x1="292.49" y1="411.20" x2="292.49" y2="414.50" stroke="#333" stroke-width="1.0" />
<line x1="298.08" y1="411.20" x2="298.08" y2="414.50" stroke="#333" stroke-width="1.0" />
<line x1="303.67" y1="411.20" x2="303.67" y2="414.50" stroke="#333" stroke-width="1.0" />
<line x1="309.26" y1="411.20" x2="309.26" y2="414.50" stroke="#333" stroke-width="1.0" />
<line x1="314.85" y1="408.20" x2="314.85" y2="414.50" stroke="#333" stroke-width="1.0" />
<line x1="320.44" y1="411.20" x2="320.44" y2="414.50" stroke="#333" stroke-width="1.0" />
<line x1="326.03" y1="411.20" x2="326.03" y2="414.50" stroke="#333" stroke-width="1.0" />
<line x1="331.62" y1="411.20" x2="331.62" y2="414.50" stroke="#333" stroke-width="1.0" />
<line x1="337.21" y1="411.20" x2="337.21" y2="414.50" stroke="#333" stroke-width="1.0" />
<line x1="342.80" y1="408.20" x2="342.80" y2="414.50" stroke="#333" stroke-width="1.0" />
<line x1="348.39" y1="411.20" x2="348.39" y2="414.50" stroke="#333" stroke-width="1.0" />
<line x1="353.98" y1="411.20" x2="353.98" y2="414.50" stroke="#333" stroke-width="1.0" />
<line x1="359.57" y1="411.20" x2="359.57" y2="414.50" stroke="#333" stroke-width="1.0" />
<line x1="365.16" y1="411.20" x2="365.16" y2="414.50" stroke="#333" stroke-width="1.0" />
<line x1="370.75" y1="408.20" x2="370.75" y2="414.50" stroke="#333" stroke-width="1.0" />
<line x1="376.34" y1="411.20" x2="376.34" y2="414.50" stroke="#333" stroke-width="1.0" />
<text x="231.00" y="424.90" font-size="8.3" text-anchor="middle" fill="#333" stroke="#333" stroke-width="0.22" >0</text>
<text x="258.95" y="424.90" font-size="8.3" text-anchor="middle" fill="#333" stroke="#333" stroke-width="0.22" >0.1</text>
<text x="286.90" y="424.90" font-size="8.3" text-anchor="middle" fill="#333" stroke="#333" stroke-width="0.22" >0.2</text>
<text x="314.85" y="424.90" font-size="8.3" text-anchor="middle" fill="#333" stroke="#333" stroke-width="0.22" >0.3</text>
<text x="342.80" y="424.90" font-size="8.3" text-anchor="middle" fill="#333" stroke="#333" stroke-width="0.22" >0.4</text>
<text x="370.75" y="424.90" font-size="8.3" text-anchor="middle" fill="#333" stroke="#333" stroke-width="0.22" >0.5</text>
<text x="303.20" y="405.30" font-size="8.7" text-anchor="middle" fill="#222" stroke="#222" stroke-width="0.22" >weighted unifrac Distance</text>
<rect x="452.50" y="194.60" width="17.20" height="6.00" fill="#f0646e" stroke="#111" stroke-width="0.9" />
<text x="471.60" y="200.20" font-size="11.6" text-anchor="start" fill="#111" stroke="#111" stroke-width="0.22" >High in CG-7</text>
<rect x="552.00" y="194.60" width="16.50" height="6.00" fill="#a8def0" stroke="#111" stroke-width="0.9" />
<text x="571.00" y="200.20" font-size="11.6" text-anchor="start" fill="#111" stroke="#111" stroke-width="0.22" >High in FFNC</text>
<rect x="548.20" y="211.40" width="85.10" height="8.00" fill="#a8def0" stroke="#333" stroke-width="0.8" />
<text x="541.00" y="218.00" font-size="8.6" text-anchor="end" fill="#222" stroke="#222" stroke-width="0.22" >s_<tspan font-style="italic">Pseudorhodobacter_wandonensis</tspan></text>
<rect x="548.20" y="221.61" width="78.00" height="8.00" fill="#a8def0" stroke="#333" stroke-width="0.8" />
<text x="541.00" y="228.21" font-size="8.6" text-anchor="end" fill="#222" stroke="#222" stroke-width="0.22" >g_<tspan font-style="italic">Luteolibacter</tspan></text>
<rect x="478.30" y="231.81" width="69.90" height="8.00" fill="#f0646e" stroke="#333" stroke-width="0.8" />
<text x="552.40" y="238.21" font-size="8.85" text-anchor="start" fill="#222" stroke="#222" stroke-width="0.22" >g_<tspan font-style="italic">Romboutsia</tspan></text>
<rect x="478.00" y="242.02" width="70.20" height="8.00" fill="#f0646e" stroke="#333" stroke-width="0.8" />
<text x="552.40" y="248.42" font-size="8.85" text-anchor="start" fill="#222" stroke="#222" stroke-width="0.22" >g_<tspan font-style="italic">Chryseobacterium</tspan></text>
<rect x="478.00" y="252.22" width="70.20" height="8.00" fill="#f0646e" stroke="#333" stroke-width="0.8" />
<text x="552.40" y="258.62" font-size="8.85" text-anchor="start" fill="#222" stroke="#222" stroke-width="0.22" >g_<tspan font-style="italic">Streptococcus</tspan></text>
<rect x="477.40" y="262.43" width="70.80" height="8.00" fill="#f0646e" stroke="#333" stroke-width="0.8" />
<text x="552.40" y="268.82" font-size="8.85" text-anchor="start" fill="#222" stroke="#222" stroke-width="0.22" >g_unidentified_<tspan font-style="italic">Ruminococcaceae</tspan></text>
<rect x="477.10" y="272.63" width="71.10" height="8.00" fill="#f0646e" stroke="#333" stroke-width="0.8" />
<text x="552.40" y="279.03" font-size="8.85" text-anchor="start" fill="#222" stroke="#222" stroke-width="0.22" >s_<tspan font-style="italic">Prevotella_corporis</tspan></text>
<rect x="477.10" y="282.84" width="71.10" height="8.00" fill="#f0646e" stroke="#333" stroke-width="0.8" />
<text x="552.40" y="289.24" font-size="8.85" text-anchor="start" fill="#222" stroke="#222" stroke-width="0.22" >s_<tspan font-style="italic">Bambusa_oldhamii</tspan></text>
<rect x="476.20" y="293.04" width="72.00" height="8.00" fill="#f0646e" stroke="#333" stroke-width="0.8" />
<text x="552.40" y="299.44" font-size="8.85" text-anchor="start" fill="#222" stroke="#222" stroke-width="0.22" >s_<tspan font-style="italic">Bacteroides_plebeius</tspan></text>
<rect x="475.10" y="303.25" width="73.10" height="8.00" fill="#f0646e" stroke="#333" stroke-width="0.8" />
<text x="552.40" y="309.64" font-size="8.85" text-anchor="start" fill="#222" stroke="#222" stroke-width="0.22" >g_unidentified_<tspan font-style="italic">Prevotellaceae</tspan></text>
<rect x="474.60" y="313.45" width="73.60" height="8.00" fill="#f0646e" stroke="#333" stroke-width="0.8" />
<text x="552.40" y="319.85" font-size="8.85" text-anchor="start" fill="#222" stroke="#222" stroke-width="0.22" >g_<tspan font-style="italic">Acinetobacter</tspan></text>
<rect x="474.10" y="323.65" width="74.10" height="8.00" fill="#f0646e" stroke="#333" stroke-width="0.8" />
<text x="552.40" y="330.05" font-size="8.85" text-anchor="start" fill="#222" stroke="#222" stroke-width="0.22" >g_<tspan font-style="italic">Lactobacillus</tspan></text>
<rect x="473.30" y="333.86" width="74.90" height="8.00" fill="#f0646e" stroke="#333" stroke-width="0.8" />
<text x="552.40" y="340.26" font-size="8.85" text-anchor="start" fill="#222" stroke="#222" stroke-width="0.22" >g_<tspan font-style="italic">Stenotrophomonas</tspan></text>
<rect x="469.60" y="344.06" width="78.60" height="8.00" fill="#f0646e" stroke="#333" stroke-width="0.8" />
<text x="552.40" y="350.46" font-size="8.85" text-anchor="start" fill="#222" stroke="#222" stroke-width="0.22" >s_<tspan font-style="italic">Phaseolus_vulgaris</tspan></text>
<rect x="468.80" y="354.27" width="79.40" height="8.00" fill="#f0646e" stroke="#333" stroke-width="0.8" />
<text x="552.40" y="360.67" font-size="8.85" text-anchor="start" fill="#222" stroke="#222" stroke-width="0.22" >g_<tspan font-style="italic">Faecalibacterium</tspan></text>
<rect x="461.50" y="364.48" width="86.70" height="8.00" fill="#f0646e" stroke="#333" stroke-width="0.8" />
<text x="552.40" y="370.88" font-size="8.85" text-anchor="start" fill="#222" stroke="#222" stroke-width="0.22" >g_unidentified_<tspan font-style="italic">Cyanobacteria</tspan></text>
<rect x="461.50" y="374.68" width="86.70" height="8.00" fill="#f0646e" stroke="#333" stroke-width="0.8" />
<text x="552.40" y="381.08" font-size="8.85" text-anchor="start" fill="#222" stroke="#222" stroke-width="0.22" >p_Cyanobacteria</text>
<rect x="461.50" y="384.88" width="86.70" height="8.00" fill="#f0646e" stroke="#333" stroke-width="0.8" />
<text x="552.40" y="391.28" font-size="8.85" text-anchor="start" fill="#222" stroke="#222" stroke-width="0.22" >g_<tspan font-style="italic">Aeromonas</tspan></text>
<rect x="461.30" y="395.09" width="86.90" height="8.00" fill="#f0646e" stroke="#333" stroke-width="0.8" />
<text x="552.40" y="401.49" font-size="8.85" text-anchor="start" fill="#222" stroke="#222" stroke-width="0.22" >g_<tspan font-style="italic">Bacteroides</tspan></text>
<rect x="454.50" y="405.30" width="93.70" height="8.00" fill="#f0646e" stroke="#333" stroke-width="0.8" />
<text x="552.40" y="411.69" font-size="8.85" text-anchor="start" fill="#222" stroke="#222" stroke-width="0.22" >p_Bacteroidetes</text>
<rect x="452.40" y="415.50" width="95.80" height="8.00" fill="#f0646e" stroke="#333" stroke-width="0.8" />
<text x="552.40" y="421.90" font-size="8.85" text-anchor="start" fill="#222" stroke="#222" stroke-width="0.22" >p_Firmicutes</text>
<rect x="448.50" y="425.71" width="99.70" height="8.00" fill="#f0646e" stroke="#333" stroke-width="0.8" />
<text x="552.40" y="432.11" font-size="8.85" text-anchor="start" fill="#222" stroke="#222" stroke-width="0.22" >g_<tspan font-style="italic">Vibrio</tspan></text>
<line x1="429.00" y1="435.50" x2="667.50" y2="435.50" stroke="#222" stroke-width="1.0" />
<line x1="429.50" y1="435.50" x2="429.50" y2="438.30" stroke="#222" stroke-width="1.0" />
<text x="429.50" y="446.80" font-size="8.3" text-anchor="middle" fill="#222" stroke="#222" stroke-width="0.22" >-6.0</text>
<line x1="453.24" y1="435.50" x2="453.24" y2="438.30" stroke="#222" stroke-width="1.0" />
<text x="453.24" y="446.80" font-size="8.3" text-anchor="middle" fill="#222" stroke="#222" stroke-width="0.22" >-4.8</text>
<line x1="476.98" y1="435.50" x2="476.98" y2="438.30" stroke="#222" stroke-width="1.0" />
<text x="476.98" y="446.80" font-size="8.3" text-anchor="middle" fill="#222" stroke="#222" stroke-width="0.22" >-3.6</text>
<line x1="500.72" y1="435.50" x2="500.72" y2="438.30" stroke="#222" stroke-width="1.0" />
<text x="500.72" y="446.80" font-size="8.3" text-anchor="middle" fill="#222" stroke="#222" stroke-width="0.22" >-2.4</text>
<line x1="524.46" y1="435.50" x2="524.46" y2="438.30" stroke="#222" stroke-width="1.0" />
<text x="524.46" y="446.80" font-size="8.3" text-anchor="middle" fill="#222" stroke="#222" stroke-width="0.22" >-1.2</text>
<line x1="548.20" y1="435.50" x2="548.20" y2="438.30" stroke="#222" stroke-width="1.0" />
<text x="548.20" y="446.80" font-size="8.3" text-anchor="middle" fill="#222" stroke="#222" stroke-width="0.22" >0.0</text>
<line x1="571.94" y1="435.50" x2="571.94" y2="438.30" stroke="#222" stroke-width="1.0" />
<text x="571.94" y="446.80" font-size="8.3" text-anchor="middle" fill="#222" stroke="#222" stroke-width="0.22" >1.2</text>
<line x1="595.68" y1="435.50" x2="595.68" y2="438.30" stroke="#222" stroke-width="1.0" />
<text x="595.68" y="446.80" font-size="8.3" text-anchor="middle" fill="#222" stroke="#222" stroke-width="0.22" >2.4</text>
<line x1="619.42" y1="435.50" x2="619.42" y2="438.30" stroke="#222" stroke-width="1.0" />
<text x="619.42" y="446.80" font-size="8.3" text-anchor="middle" fill="#222" stroke="#222" stroke-width="0.22" >3.6</text>
<line x1="643.16" y1="435.50" x2="643.16" y2="438.30" stroke="#222" stroke-width="1.0" />
<text x="643.16" y="446.80" font-size="8.3" text-anchor="middle" fill="#222" stroke="#222" stroke-width="0.22" >4.8</text>
<line x1="666.90" y1="435.50" x2="666.90" y2="438.30" stroke="#222" stroke-width="1.0" />
<text x="666.90" y="446.80" font-size="8.3" text-anchor="middle" fill="#222" stroke="#222" stroke-width="0.22" >6.0</text>
<text x="547.60" y="458.10" font-size="8.6" text-anchor="middle" fill="#222" stroke="#222" stroke-width="0.22" >LDA score (log 10)</text>
</svg>
</body></html>
